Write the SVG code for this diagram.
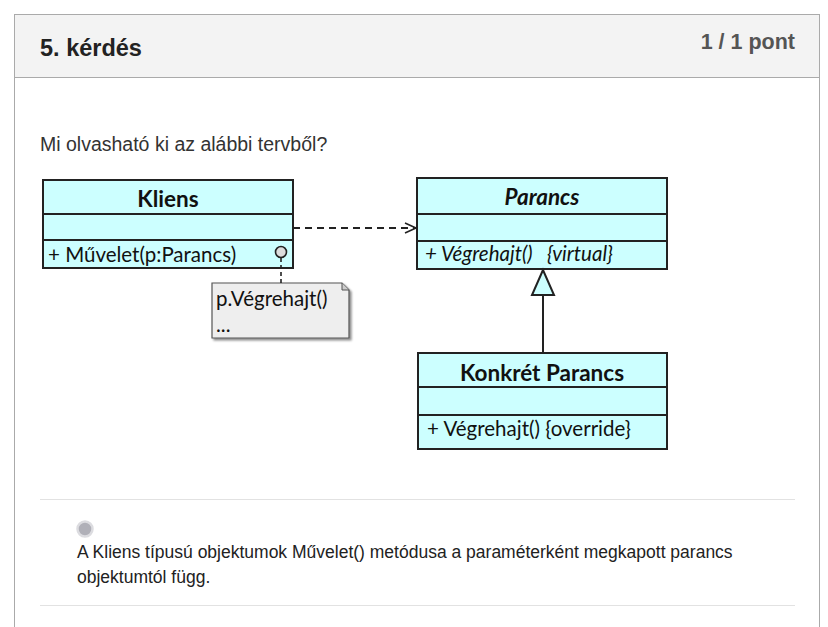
<svg xmlns="http://www.w3.org/2000/svg" width="828" height="627" viewBox="0 0 828 627">
<defs>
<style>
.uml{fill:#ccffff;stroke:#222;stroke-width:2}
.div{stroke:#222;stroke-width:2}
.t{font-family:Lato,"Open Sans",sans-serif;fill:#111;font-size:20.5px}
.tb{font-family:Lato,"Open Sans",sans-serif;fill:#111;font-size:22.5px;font-weight:bold}
.ui{font-family:"Liberation Sans",Arial,sans-serif}
</style>
<marker id="open" markerWidth="14" markerHeight="12" refX="12" refY="6" orient="auto" markerUnits="userSpaceOnUse">
<path d="M1,1 L12,6 L1,11" fill="none" stroke="#222" stroke-width="1.6"/>
</marker>
<filter id="sh" x="-10%" y="-10%" width="130%" height="130%">
<feDropShadow dx="2" dy="2" stdDeviation="1.2" flood-color="#000" flood-opacity="0.45"/>
</filter>
</defs>
<rect width="828" height="627" fill="#fff"/>
<g id="card">
<rect x="14.5" y="14.5" width="805" height="63" fill="#f3f3f3" stroke="#aaa"/>
<line x1="14.5" y1="77.5" x2="14.5" y2="627" stroke="#aaa"/>
<line x1="819.5" y1="77.5" x2="819.5" y2="627" stroke="#aaa"/>
<text class="ui" x="40" y="56" font-size="23.5" font-weight="bold" fill="#222">5. kérdés</text>
<text class="ui" x="795" y="49" font-size="21.5" font-weight="bold" fill="#555" text-anchor="end">1 / 1 pont</text>
<text class="ui" x="40" y="151" font-size="19.5" fill="#333">Mi olvasható ki az alábbi tervből?</text>
<line x1="40" y1="499.5" x2="795" y2="499.5" stroke="#e2e2e2"/>
<line x1="40" y1="605.5" x2="795" y2="605.5" stroke="#e2e2e2"/>
<circle cx="85" cy="529" r="7.5" fill="#b0b0b8" stroke="#dcdce0" stroke-width="2.5"/>
<text class="ui" x="77" y="558" font-size="17.5" fill="#222">A Kliens típusú objektumok Művelet() metódusa a paraméterként megkapott parancs</text>
<text class="ui" x="77" y="583" font-size="17.5" fill="#222">objektumtól függ.</text>
</g>
<g id="kliens">
<rect class="uml" x="43" y="180" width="250" height="88"/>
<line class="div" x1="43" y1="214" x2="293" y2="214"/>
<line class="div" x1="43" y1="240" x2="293" y2="240"/>
<text class="tb" x="168" y="207" text-anchor="middle">Kliens</text>
<text class="t" x="48" y="262">+ Művelet(p:Parancs)</text>
</g>
<g id="parancs">
<rect class="uml" x="417" y="178" width="250" height="91"/>
<line class="div" x1="417" y1="214" x2="667" y2="214"/>
<line class="div" x1="417" y1="241" x2="667" y2="241"/>
<text class="tb" x="542" y="205" text-anchor="middle" font-style="italic">Parancs</text>
<text class="t" x="425" y="261" font-style="italic" xml:space="preserve">+ Végrehajt()   {virtual}</text>
</g>
<g id="konkret">
<rect class="uml" x="418" y="353" width="249" height="96"/>
<line class="div" x1="418" y1="387" x2="667" y2="387"/>
<line class="div" x1="418" y1="415" x2="667" y2="415"/>
<text class="tb" x="542" y="381" text-anchor="middle">Konkrét Parancs</text>
<text class="t" x="427" y="436">+ Végrehajt() {override}</text>
</g>
<g id="note">
<path d="M212,283 H342 L349,290 V338 H212 Z" fill="#eeeeee" stroke="#555" stroke-width="1.2" filter="url(#sh)"/>
<path d="M342,283 V290 H349" fill="#ccc" stroke="#555" stroke-width="1"/>
<text class="t" x="216" y="306">p.Végrehajt()</text>
<text class="t" x="216" y="332">...</text>
</g>
<g id="connectors">
<line x1="293" y1="228" x2="416" y2="228" stroke="#222" stroke-width="2" stroke-dasharray="7,5" marker-end="url(#open)"/>
<line x1="543" y1="295" x2="543" y2="353" stroke="#222" stroke-width="2"/>
<polygon points="543,270 532,295 554,295" fill="#ccffff" stroke="#222" stroke-width="2"/>
<line x1="281" y1="258" x2="281" y2="283" stroke="#222" stroke-width="1.6" stroke-dasharray="4,3"/>
<circle cx="281" cy="252" r="5.5" fill="#ddd" stroke="#222" stroke-width="1.6"/>
</g>
</svg>
